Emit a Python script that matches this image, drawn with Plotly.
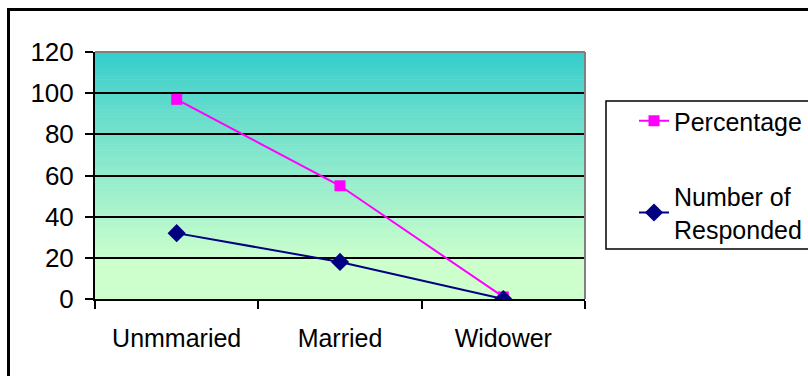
import plotly.graph_objects as go

categories = ["Unmmaried", "Married", "Widower"]
percentage = [97, 55, 1]
responded = [32, 18, 0]
y_ticks = [0, 20, 40, 60, 80, 100, 120]

FONT = "Liberation Sans, Arial, sans-serif"

fig = go.Figure()
fig.add_trace(go.Scatter(
    x=categories, y=percentage, name="Percentage", mode="lines+markers",
    line=dict(color="#FF00FF", width=2),
    marker=dict(symbol="square", size=11, color="#FF00FF"),
    legendgroup="a"))
fig.add_trace(go.Scatter(
    x=categories, y=responded, name="Number of<br>Responded", mode="lines+markers",
    line=dict(color="#000080", width=2),
    marker=dict(symbol="diamond", size=14, color="#000080"),
    legendgroup="b"))

# gradient background strips
def lerp(c1, c2, t):
    return tuple(round(a + (b - a) * t) for a, b in zip(c1, c2))

top = (0x33, 0xCC, 0xCC)
bot = (0xCC, 0xFF, 0xCC)
shapes = []
N = 80
for i in range(N):
    y0 = i / N
    y1 = (i + 1) / N
    tpos = 1 - (y0 + y1) / 2  # 0 at top, 1 at bottom
    t = min(1.0, tpos / 0.85) ** 0.9
    c = lerp(top, bot, t)
    shapes.append(dict(type="rect", xref="x domain", yref="y domain",
                       x0=0, x1=1, y0=y0, y1=y1 + 0.002, layer="below",
                       line=dict(width=0), fillcolor="rgb(%d,%d,%d)" % c))
# outer chart border
shapes.append(dict(type="rect", xref="paper", yref="paper",
                   x0=-86.5 / 490, x1=(830 - 95) / 490, y0=-(400 - 299) / 247, y1=1 + 42.5 / 247,
                   line=dict(color="black", width=3), fillcolor="rgba(0,0,0,0)"))
# legend box
shapes.append(dict(type="rect", xref="paper", yref="paper",
                   x0=(606 - 95) / 490, x1=(830 - 95) / 490,
                   y0=(299 - 249) / 247, y1=(299 - 101) / 247,
                   line=dict(color="black", width=1.5), fillcolor="rgba(0,0,0,0)"))
# top and right plot border (gray)
shapes.append(dict(type="line", xref="x domain", yref="y domain", x0=0, x1=1, y0=1, y1=1,
                   line=dict(color="#808080", width=2)))
shapes.append(dict(type="line", xref="x domain", yref="y domain", x0=1, x1=1, y0=0, y1=1,
                   line=dict(color="#808080", width=2)))

fig.update_layout(
    width=808, height=376,
    margin=dict(l=95, r=223, t=52, b=77, autoexpand=False),
    paper_bgcolor="white", plot_bgcolor="rgba(0,0,0,0)",
    font=dict(family=FONT, size=26, color="black"),
    shapes=shapes,
    showlegend=True,
    legend=dict(x=(634 - 95) / 490, y=(299 - 98) / 247, xanchor="left", yanchor="top",
                bgcolor="rgba(0,0,0,0)", borderwidth=0, tracegroupgap=40,
                font=dict(family=FONT, size=25, color="black")),
)
fig.update_xaxes(
    type="category", range=[-0.5, 2.5], showgrid=False,
    showline=True, linecolor="black", linewidth=2,
    ticks="outside", tickson="boundaries", ticklen=8, tickwidth=2, tickcolor="black",
    ticklabelstandoff=16, tickfont=dict(size=25))
fig.update_yaxes(
    range=[0, 120], tickvals=y_ticks, showgrid=True, gridcolor="black", gridwidth=1.5,
    zeroline=False, showline=True, linecolor="black", linewidth=2,
    ticks="outside", ticklen=8, tickwidth=2, tickcolor="black",
    ticklabelstandoff=6, tickfont=dict(size=26))

fig.write_html("out.html", config={"displayModeBar": False},
               post_script="document.body.style.margin='0';")
